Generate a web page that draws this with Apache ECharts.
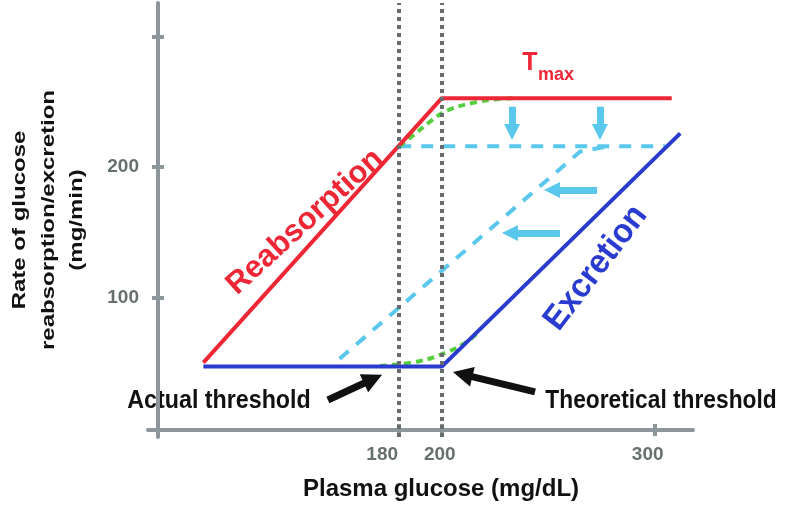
<!DOCTYPE html>
<html>
<head>
<meta charset="utf-8">
<script src="https://cdn.jsdelivr.net/npm/echarts@6/dist/echarts.min.js"></script>
<style>
  html, body { margin: 0; padding: 0; background: #fff; }
  #chart { width: 789px; height: 508px; }
</style>
</head>
<body>
<div id="chart"></div>
<script>
// axis ticks
const xTicks = [180, 200, 300];
const yTicks = [100, 200, 300];
const yTickLabels = [100, 200];
const thresholds = [180, 200];

// curves, [plasma glucose, rate]
const reabsorption = [[88, 50], [200, 253], [308, 253]];
const excretion = [[88, 47], [200, 47], [312, 226]];
const loweredTmax = [[180, 216], [305, 216]];
const shiftedExcretion = [[152, 53], [265, 212], [278, 216]];
const splayTop = [[180, 216], [187, 225], [194.5, 235], [202.5, 243.5], [216.5, 250], [227, 252.4], [234, 253]];
const splayBottom = [[171, 47.5], [189.8, 51.3], [202.5, 58.2], [210.9, 65.2], [217, 73]];

// arrows [from, to]
const downArrows = [[[233, 246.3], [233, 227.1]], [[274.3, 246.3], [274.3, 227.1]]];
const leftArrows = [[[272.9, 182.6], [251.8, 182.6]], [[255.5, 149.6], [232, 149.6]]];
const blackArrows = [[[146.5, 21.4], [167.7, 37.5]], [[243.8, 27.6], [209.8, 41.1]]];

const FONT = "'Liberation Sans', Arial, sans-serif";
const axisGray = '#8d979b';
const labelGray = '#66716f';
const dotGray = '#676c6f';
const red = '#ee2737';
const blue = '#2a3bcf';
const cyan = '#5ac7ec';
const green = '#55cf3f';
// x labels in the figure sit a little left of their ticks (right padding, px)
const xLabelPad = { 180: 34, 200: 4, 300: 14 };

let chart = echarts.init(document.getElementById('chart'));

function curve(name, data, color, type, z, smooth) {
    return {
        name: name,
        type: 'line',
        data: data,
        symbol: 'none',
        smooth: smooth || false,
        z: z,
        lineStyle: { color: color, width: 4, type: type },
        xAxisIndex: 0,
        yAxisIndex: 0
    };
}

function arrows(list, color, width, head) {
    return {
        type: 'lines',
        coordinateSystem: 'cartesian2d',
        xAxisIndex: 0,
        yAxisIndex: 0,
        symbol: ['none', 'triangle'],
        symbolSize: head,
        z: 6,
        lineStyle: { color: color, width: width, opacity: 1, curveness: 0 },
        data: list.map(function (a) { return { coords: a }; })
    };
}

function label(text, x, y, size, color, opts) {
    let el = {
        type: 'text', x: x, y: y,
        style: {
            text: text, fill: color, font: 'bold ' + size + 'px ' + FONT,
            align: 'center', verticalAlign: 'middle', textAlign: 'center', textVerticalAlign: 'middle'
        }
    };
    return Object.assign(el, opts || {});
}

let xRich = {};
xTicks.forEach(function (v) {
    xRich['t' + v] = {
        color: labelGray, fontSize: 19, fontWeight: 'bold', fontFamily: FONT,
        padding: [0, xLabelPad[v] || 0, 0, 0]
    };
});

let option = {
    animation: false,
    backgroundColor: '#fff',
    grid: { left: 148, right: 96, top: 3, bottom: 71 },
    xAxis: [
        {
            type: 'value', min: 62, max: 318, position: 'bottom', offset: -7,
            axisLine: { onZero: false, lineStyle: { color: axisGray, width: 4 } },
            axisTick: { customValues: xTicks, length: 6, lineStyle: { color: axisGray, width: 4 } },
            axisLabel: {
                customValues: xTicks, margin: 15,
                formatter: function (v) { return '{t' + v + '|' + v + '}'; },
                rich: xRich
            },
            splitLine: { show: false }
        },
        {
            type: 'value', min: 62, max: 318, position: 'top', offset: -427,
            axisLine: { show: false, onZero: false },
            axisTick: { customValues: xTicks, length: 6, lineStyle: { color: axisGray, width: 4 } },
            axisLabel: { show: false },
            splitLine: { show: false }
        }
    ],
    yAxis: [
        {
            type: 'value', min: -7, max: 326, position: 'left', offset: -10,
            axisLine: { onZero: false, lineStyle: { color: axisGray, width: 4 } },
            axisTick: { customValues: yTicks, length: 6, lineStyle: { color: axisGray, width: 4 } },
            axisLabel: { customValues: yTickLabels, margin: 19, color: labelGray, fontSize: 19, fontWeight: 'bold', fontFamily: FONT },
            splitLine: { show: false }
        },
        {
            type: 'value', min: -7, max: 326, position: 'right', offset: -535,
            axisLine: { show: false, onZero: false },
            axisTick: { customValues: yTicks, length: 6, lineStyle: { color: axisGray, width: 4 } },
            axisLabel: { show: false },
            splitLine: { show: false }
        }
    ],
    series: [
        {
            type: 'line', data: [], xAxisIndex: 0, yAxisIndex: 0,
            markLine: {
                silent: true, symbol: 'none', label: { show: false },
                lineStyle: { color: dotGray, width: 4, type: [4, 4] },
                data: thresholds.map(function (v) { return { xAxis: v }; })
            }
        },
        curve('shifted Tmax', loweredTmax, cyan, [12, 10], 2),
        curve('shifted excretion', shiftedExcretion, cyan, [12, 10], 2),
        curve('splay top', splayTop, green, [7, 5], 3, 0.4),
        curve('splay bottom', splayBottom, green, [7, 5], 3, 0.4),
        curve('Reabsorption', reabsorption, red, 'solid', 4),
        curve('Excretion', excretion, blue, 'solid', 4),
        arrows(downArrows, cyan, 7, [18, 16]),
        arrows(leftArrows, cyan, 7, [18, 16]),
        arrows(blackArrows, '#111', 7, [20, 20])
    ],
    graphic: [
        label('Rate of glucose\nreabsorption/excretion\n(mg/min)', 49, 220, 24, '#111',
            { rotation: Math.PI / 2, scaleY: 0.75 }),
        label('Plasma glucose (mg/dL)', 441, 489, 24, '#111'),
        label('Actual threshold', 219, 401, 25, '#111', { scaleX: 0.93 }),
        label('Theoretical threshold', 661, 401, 25, '#111', { scaleX: 0.91 }),
        label('Reabsorption', 305, 222, 31, red, { rotation: 0.74 }),
        label('Excretion', 596, 268, 34, blue, { rotation: 0.92, scaleX: 0.95 }),
        label('T', 530, 63, 25, red),
        label('max', 556, 75, 18, red)
    ]
};
// line height for the rotated y title
option.graphic[0].style.lineHeight = 38;
chart.setOption(option);
</script>
</body>
</html>
